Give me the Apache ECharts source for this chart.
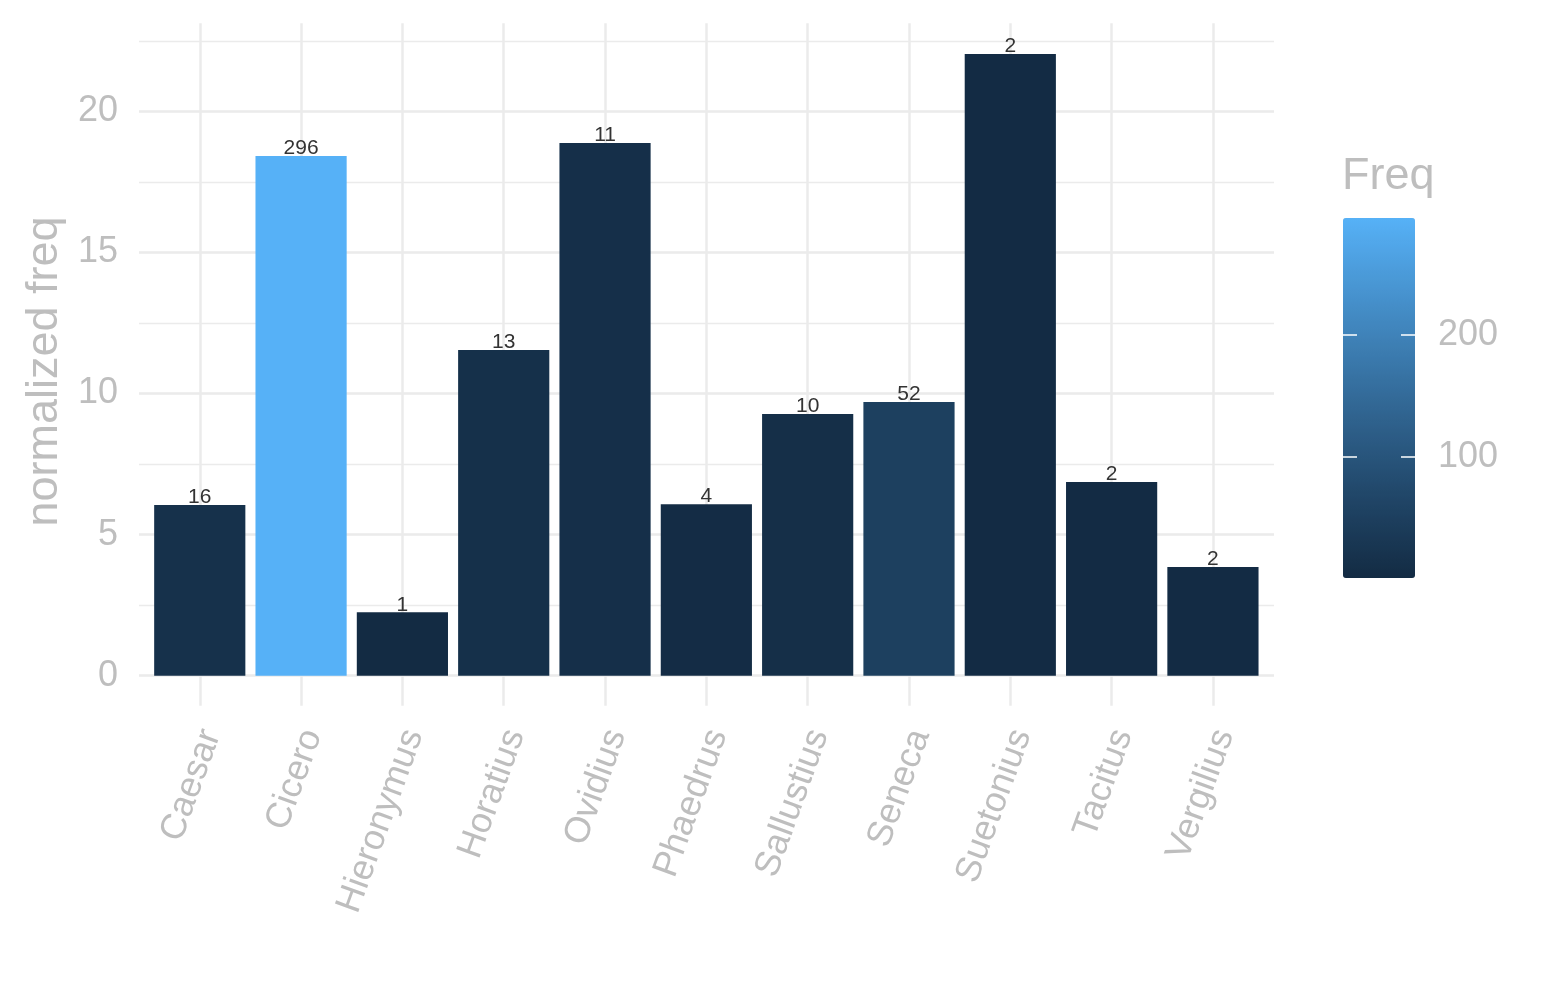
<!DOCTYPE html>
<html><head><meta charset="utf-8">
<script src="https://cdn.jsdelivr.net/npm/echarts@6/dist/echarts.min.js"></script>
<style>html,body{margin:0;padding:0;background:#fff}#c{width:1545px;height:1000px}</style>
</head><body><div id="c"></div>
<script>
const categories = ['Caesar','Cicero','Hieronymus','Horatius','Ovidius','Phaedrus','Sallustius','Seneca','Suetonius','Tacitus','Vergilius'];
const normalizedFreq = [6.05, 18.42, 2.25, 11.54, 18.88, 6.08, 9.27, 9.70, 22.03, 6.86, 3.85];
const freq = [16, 296, 1, 13, 11, 4, 10, 52, 2, 2, 2];
const yMax = 23.12;
const yMajorStep = 5;
const yMinorStep = 2.5;
const freqMin = 1, freqMax = 296;
const legendAxisMax = 300, legendStep = 100;
const gradientColors = ['#132B43', '#22496C', '#336A98', '#448DC7', '#56B1F7'];

const FONT = '"Liberation Sans", Arial, Helvetica, sans-serif';
const GRAY = '#BEBEBE';
const GRID = '#EBEBEB';

const chart = echarts.init(document.getElementById('c'), null, {renderer: 'canvas'});
const rows = categories.map((c, i) => [c, normalizedFreq[i], freq[i]]);

chart.setOption({
  animation: false,
  backgroundColor: '#ffffff',
  textStyle: {fontFamily: FONT},
  title: {
    text: 'Freq', left: 1342, top: 154, padding: 0,
    textStyle: {fontSize: 45, fontWeight: 'normal', color: GRAY, fontFamily: FONT}
  },
  grid: [
    {left: 139, top: 23.3, width: 1135, height: 652.4},
    {left: 149.1, top: 23.3, width: 1114.5, height: 652.4},
    {left: 1343, top: 213.1, width: 72, height: 365.9}
  ],
  xAxis: [
    {gridIndex: 0, type: 'value', min: 0, max: 1, show: false},
    {
      gridIndex: 1, type: 'category', data: categories,
      axisLine: {show: false},
      axisTick: {show: true, alignWithLabel: true, interval: 0, length: 30, lineStyle: {color: GRID, width: 2.5}},
      splitLine: {show: true, alignWithLabel: true, interval: 0, lineStyle: {color: GRID, width: 2.5}},
      axisLabel: {
        interval: 0, rotate: 70, fontSize: 36, color: GRAY, fontFamily: FONT,
        margin: 51, align: 'right', verticalAlign: 'top', lineHeight: 24
      }
    },
    {gridIndex: 2, type: 'value', min: 0, max: 1, show: false}
  ],
  yAxis: [
    {
      gridIndex: 0, type: 'value', min: 0, max: yMax, interval: yMinorStep,
      axisLine: {show: false}, axisTick: {show: false}, axisLabel: {show: false},
      splitLine: {show: true, showMaxLine: false, lineStyle: {color: GRID, width: 1.3}}
    },
    {
      gridIndex: 0, type: 'value', min: 0, max: yMax, interval: yMajorStep, position: 'left',
      axisLine: {show: false}, axisTick: {show: false},
      axisLabel: {fontSize: 36, color: GRAY, margin: 21, showMaxLabel: false, fontFamily: FONT, padding: [10, 0, 0, 0]},
      splitLine: {show: true, showMaxLine: false, lineStyle: {color: GRID, width: 2.5}},
      name: 'normalized freq', nameLocation: 'middle', nameRotate: 90, nameGap: 71,
      nameTextStyle: {fontSize: 45, color: GRAY, fontFamily: FONT, padding: [0, 44, 0, 0]}
    },
    {gridIndex: 1, type: 'value', min: 0, max: yMax, show: false},
    {
      gridIndex: 2, type: 'value', min: 0, max: legendAxisMax, interval: legendStep, position: 'left', z: 10,
      axisLine: {show: false}, axisLabel: {show: false}, splitLine: {show: false},
      axisTick: {show: true, inside: true, length: 14, lineStyle: {color: '#ffffff', width: 1.5}}
    },
    {
      gridIndex: 2, type: 'value', min: 0, max: legendAxisMax, interval: legendStep, position: 'right', z: 10,
      axisLine: {show: false}, splitLine: {show: false},
      axisTick: {show: true, inside: true, length: 14, lineStyle: {color: '#ffffff', width: 1.5}},
      axisLabel: {fontSize: 36, color: GRAY, margin: 23, showMinLabel: false, showMaxLabel: false, fontFamily: FONT, padding: [8, 0, 0, 0]}
    }
  ],
  visualMap: {
    type: 'continuous', min: freqMin, max: freqMax, dimension: 2, seriesIndex: 0,
    left: 1343, top: 218, itemWidth: 72, itemHeight: 360, padding: 0,
    calculable: false, hoverLink: false, showLabel: false,
    inRange: {color: gradientColors}
  },
  series: [{
    type: 'bar', xAxisIndex: 1, yAxisIndex: 2, z: 2,
    data: rows, encode: {x: 0, y: 1},
    barWidth: '90%',
    label: {
      show: true, position: 'top', distance: -3,
      formatter: p => String(p.value[2]),
      fontSize: 21, color: '#333333', fontFamily: FONT, lineHeight: 21
    }
  }]
});
</script></body></html>
